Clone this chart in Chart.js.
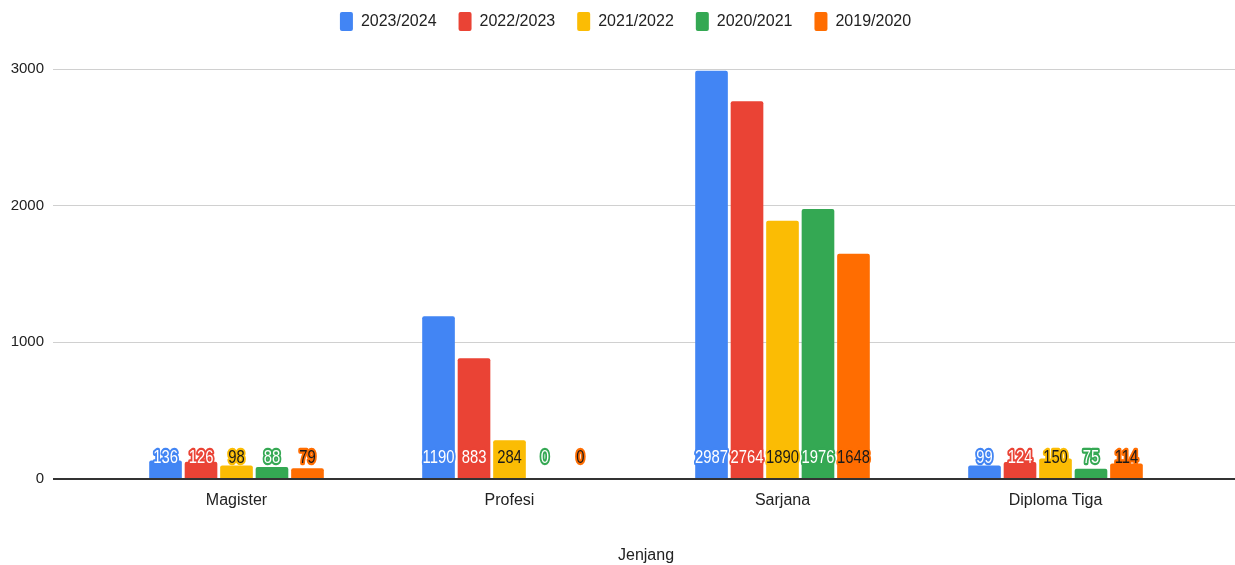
<!DOCTYPE html>
<html>
<head>
<meta charset="utf-8">
<script src="https://cdn.jsdelivr.net/npm/chart.js@4"></script>
<style>
    html, body { margin: 0; padding: 0; background: #fff; }
    #wrap { width: 1235px; height: 565px; }
</style>
</head>
<body>
<div id="wrap"><canvas id="chart"></canvas></div>
<script>
const categories = ["Magister", "Profesi", "Sarjana", "Diploma Tiga"];
const seriesNames = ["2023/2024", "2022/2023", "2021/2022", "2020/2021", "2019/2020"];
const values2023 = [136, 1190, 2987, 99];
const values2022 = [126, 883, 2764, 124];
const values2021 = [98, 284, 1890, 150];
const values2020 = [88, 0, 1976, 75];
const values2019 = [79, 0, 1648, 114];
const yTicks = [0, 1000, 2000, 3000];

const colors = ["#4285F4", "#EA4335", "#FBBC04", "#34A853", "#FF6D01"];
const labelInk = ["#ffffff", "#ffffff", "#1a1a1a", "#ffffff", "#1a1a1a"];
const fontFamily = "'Liberation Sans', Arial, sans-serif";

const allValues = [values2023, values2022, values2021, values2020, values2019];

// value labels at the foot of each bar, outlined in the bar colour
const barLabels = {
    id: "barLabels",
    afterDatasetsDraw(chart) {
        const ctx = chart.ctx;
        const base = chart.scales.y.getPixelForValue(0);
        ctx.save();
        ctx.font = "19px " + fontFamily;
        ctx.textAlign = "center";
        ctx.textBaseline = "middle";
        ctx.lineJoin = "round";
        ctx.lineWidth = 4.5;
        chart.data.datasets.forEach((ds, i) => {
            chart.getDatasetMeta(i).data.forEach((bar, j) => {
                const text = String(ds.data[j]);
                ctx.save();
                ctx.translate(bar.x, base - 21);
                ctx.scale(0.78, 1);
                ctx.strokeStyle = ds.backgroundColor;
                ctx.strokeText(text, 0, 0);
                ctx.fillStyle = labelInk[i];
                ctx.fillText(text, 0, 0);
                ctx.restore();
            });
        });
        ctx.restore();
    }
};

// fixed legend block height so the plot starts lower, and nudge it right a bit
const legendHeight = {
    id: "legendHeight",
    beforeUpdate(chart) {
        const legend = chart.legend;
        if (legend && !legend._patched) {
            const fit = legend.fit;
            legend.fit = function () {
                fit.call(this);
                this.height = 79;
            };
            legend._patched = true;
        }
    },
    afterLayout(chart) {
        chart.legend.left += 8;
        chart.legend.right += 8;
    }
};

const gridColor = (ctx) => (ctx.tick && ctx.tick.value === 0 ? "#333333" : "#d0d0d0");
const gridWidth = (ctx) => (ctx.tick && ctx.tick.value === 0 ? 2 : 1);

const config = {
    type: "bar",
    data: {
        labels: categories,
        datasets: seriesNames.map((name, i) => ({
            label: name,
            data: allValues[i],
            backgroundColor: colors[i],
            borderRadius: { topLeft: 2, topRight: 2 },
            borderSkipped: "bottom",
            barPercentage: 0.92,
            categoryPercentage: 0.65,
            yAxisID: "y",
        })),
    },
    options: {
        responsive: true,
        maintainAspectRatio: false,
        animation: false,
        layout: { padding: { top: -10, left: 0, right: 0, bottom: 0 } },
        plugins: {
            tooltip: { enabled: false },
            legend: {
                position: "top",
                labels: {
                    boxWidth: 13,
                    boxHeight: 19,
                    padding: 22,
                    useBorderRadius: true,
                    borderRadius: 2,
                    color: "#222222",
                    font: { family: fontFamily, size: 16 },
                },
            },
        },
        scales: {
            x: {
                grid: { display: false, drawTicks: false },
                border: { display: false },
                afterFit: (scale) => {
                    scale.height = 86;
                },
                ticks: {
                    color: "#222222",
                    padding: 12,
                    font: { family: fontFamily, size: 16 },
                },
                title: {
                    display: true,
                    text: "Jenjang",
                    color: "#222222",
                    padding: { top: 30, bottom: 0 },
                    font: { family: fontFamily, size: 16 },
                },
            },
            y: {
                position: "left",
                min: 0,
                max: 3000,
                afterBuildTicks: (scale) => {
                    scale.ticks = yTicks.map((v) => ({ value: v }));
                },
                afterFit: (scale) => {
                    scale.width = 100;
                },
                border: { display: false },
                grid: {
                    color: gridColor,
                    lineWidth: gridWidth,
                    tickLength: 47,
                },
                ticks: {
                    color: "#222222",
                    padding: 9,
                    callback: (v) => String(v),
                    font: { family: fontFamily, size: 15 },
                },
            },
            y2: {
                position: "right",
                min: 0,
                max: 3000,
                afterBuildTicks: (scale) => {
                    scale.ticks = yTicks.map((v) => ({ value: v }));
                },
                afterFit: (scale) => {
                    scale.width = 43;
                },
                border: { display: false },
                grid: {
                    drawOnChartArea: false,
                    color: gridColor,
                    lineWidth: gridWidth,
                    tickLength: 43,
                },
                ticks: { display: false },
            },
        },
    },
    plugins: [barLabels, legendHeight],
};

new Chart(document.getElementById("chart"), config);
</script>
</body>
</html>
